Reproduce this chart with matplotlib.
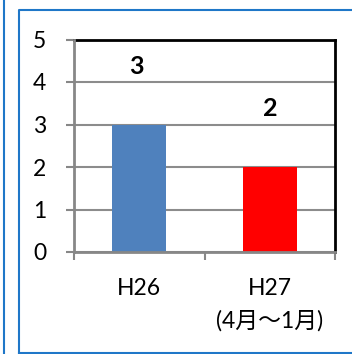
import matplotlib
matplotlib.use("Agg")
import matplotlib.pyplot as plt
from matplotlib.lines import Line2D

plt.rcParams['font.family'] = ['Lato', 'Noto Sans CJK JP', 'DejaVu Sans']

categories = ["H26", "H27\n(4月～1月)"]
values = [3, 2]
bar_colors = ["#4F81BD", "#FF0000"]
y_ticks = [0, 1, 2, 3, 4, 5]

W, H = 352, 354
fig = plt.figure(figsize=(W / 100, H / 100), dpi=100)
fig.patch.set_facecolor("white")

# outer frames
blue = "#1F77C8"
fig.add_artist(Line2D([3.5 / W, 3.5 / W], [0, 1], color=blue, lw=1.5))
fig.add_artist(Line2D([18.5 / W, 18.5 / W, 1.0], [(H - 352.5) / H, (H - 9.5) / H, (H - 9.5) / H],
                      color=blue, lw=1.5))
fig.add_artist(Line2D([18.5 / W, 1.0], [(H - 352.5) / H, (H - 352.5) / H], color=blue, lw=1.5))

left, right, top, bottom = 74, 335, 39.5, 252
ax = fig.add_axes([left / W, 1 - bottom / H, (right - left) / W, (bottom - top) / H])

x = list(range(len(categories)))
bars = ax.bar(x, values, width=0.41, color=bar_colors, zorder=2)
for xi, v in zip(x, values):
    ax.annotate(str(v), (xi, v), xytext=(-2 if xi == 0 else 0, 42), textcoords="offset points",
                ha="center", va="center", fontsize=18, fontweight="bold", color="black")

ax.set_xlim(-0.5, len(categories) - 0.5)
ax.set_ylim(0, 5)
ax.set_yticks(y_ticks)
ax.set_yticklabels([str(t) for t in y_ticks])
ax.set_xticks([-0.5, 0.5, 1.5])
ax.set_xticklabels([])
ax.set_xticks(x, minor=True)
ax.set_xticklabels(categories, minor=True)
ax.tick_params(axis="x", which="minor", length=0, pad=19, labelsize=16.5)
ax.tick_params(axis="x", which="major", length=6, width=1.5, color="#878787", direction="out")
ax.tick_params(axis="y", length=6, width=1.5, color="#878787", direction="out", pad=14, labelsize=16.5)
for lbl in ax.get_xticklabels(minor=True):
    lbl.set_linespacing(1.6)
    lbl.set_va("top")

ax.grid(axis="y", color="#8C8C8C", lw=1.5, zorder=1)
for s in ["top", "right"]:
    ax.spines[s].set_color("black")
    ax.spines[s].set_linewidth(2)
for s in ["left", "bottom"]:
    ax.spines[s].set_color("#878787")
    ax.spines[s].set_linewidth(2)
    ax.spines[s].set_zorder(3)

fig.savefig("out.png", dpi=100, facecolor="white")
